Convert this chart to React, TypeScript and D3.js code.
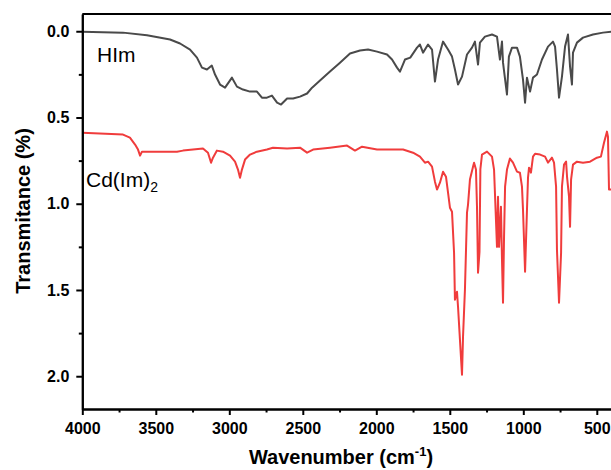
import { useEffect, useRef } from "react";
import * as d3 from "d3";

// [wavenumber, transmitance]
const himSpectrum: [number, number][] = [
  [4000, 0.003], [3723, 0.008], [3560, 0.023], [3403, 0.048], [3335, 0.071], [3267, 0.106],
  [3220, 0.153], [3186, 0.211], [3152, 0.222], [3119, 0.199], [3097, 0.251], [3063, 0.309],
  [3029, 0.327], [2982, 0.269], [2948, 0.321], [2907, 0.338], [2859, 0.35], [2812, 0.35],
  [2778, 0.385], [2744, 0.385], [2710, 0.373], [2675, 0.414], [2648, 0.425], [2607, 0.39],
  [2566, 0.39], [2519, 0.379], [2471, 0.361], [2437, 0.327], [2383, 0.286], [2315, 0.234],
  [2247, 0.182], [2179, 0.129], [2111, 0.112], [2056, 0.106], [1995, 0.118], [1927, 0.135],
  [1893, 0.164], [1859, 0.211], [1839, 0.234], [1805, 0.164], [1769, 0.153], [1723, 0.095],
  [1703, 0.077], [1682, 0.124], [1648, 0.077], [1621, 0.106], [1601, 0.292], [1580, 0.164],
  [1546, 0.06], [1512, 0.106], [1485, 0.147], [1465, 0.222], [1444, 0.309], [1417, 0.263],
  [1383, 0.135], [1349, 0.095], [1329, 0.06], [1308, 0.193], [1295, 0.066], [1261, 0.031],
  [1213, 0.019], [1179, 0.031], [1159, 0.164], [1145, 0.06], [1138, 0.182], [1111, 0.367],
  [1098, 0.147], [1077, 0.095], [1043, 0.095], [1023, 0.147], [1002, 0.28], [988, 0.414],
  [975, 0.269], [954, 0.35], [934, 0.269], [907, 0.251], [873, 0.164], [832, 0.089],
  [798, 0.06], [784, 0.089], [771, 0.222], [757, 0.385], [737, 0.263], [716, 0.089],
  [696, 0.019], [682, 0.205], [669, 0.309], [662, 0.124], [635, 0.066], [594, 0.037],
  [526, 0.019], [458, 0.008], [400, 0.002],
];

const cdSpectrum: [number, number][] = [
  [4000, 0.589], [3723, 0.599], [3676, 0.617], [3641, 0.657], [3621, 0.686], [3607, 0.721],
  [3594, 0.698], [3560, 0.698], [3356, 0.698], [3315, 0.692], [3179, 0.68], [3145, 0.704],
  [3124, 0.762], [3111, 0.733], [3084, 0.692], [3043, 0.698], [2995, 0.721], [2961, 0.756],
  [2941, 0.802], [2927, 0.849], [2914, 0.802], [2893, 0.744], [2859, 0.715], [2812, 0.698],
  [2744, 0.686], [2703, 0.675], [2607, 0.68], [2519, 0.675], [2471, 0.704], [2430, 0.686],
  [2315, 0.675], [2199, 0.663], [2145, 0.692], [2097, 0.669], [1995, 0.686], [1818, 0.686],
  [1750, 0.704], [1703, 0.727], [1669, 0.762], [1648, 0.756], [1621, 0.785], [1601, 0.872],
  [1587, 0.918], [1567, 0.878], [1546, 0.814], [1526, 0.843], [1512, 0.936], [1499, 1.023],
  [1485, 1.046], [1471, 1.284], [1465, 1.556], [1451, 1.51], [1444, 1.597], [1431, 1.788],
  [1417, 1.991], [1410, 1.771], [1397, 1.498], [1383, 1.052], [1376, 1.005], [1363, 0.86],
  [1342, 0.785], [1335, 0.762], [1322, 0.802], [1315, 1.017], [1308, 1.4], [1298, 1.28],
  [1292, 0.8], [1281, 0.715], [1247, 0.698], [1213, 0.727], [1199, 0.802], [1186, 1.093],
  [1179, 1.25], [1172, 0.959], [1165, 1.25], [1152, 1.017], [1145, 1.324], [1138, 1.574],
  [1131, 1.191], [1124, 0.901], [1111, 0.802], [1091, 0.738], [1070, 0.762], [1043, 0.814],
  [1023, 0.82], [1009, 0.901], [1002, 1.035], [988, 1.394], [975, 1.035], [968, 0.849],
  [961, 0.791], [948, 0.82], [934, 0.727], [920, 0.71], [886, 0.715], [852, 0.727],
  [832, 0.762], [805, 0.733], [791, 0.762], [777, 0.901], [771, 1.266], [757, 1.574],
  [743, 1.284], [737, 0.901], [723, 0.773], [709, 0.756], [702, 0.849], [689, 0.959],
  [682, 1.134], [675, 0.86], [662, 0.773], [635, 0.756], [594, 0.762], [546, 0.756],
  [499, 0.733], [472, 0.727], [451, 0.646], [431, 0.582], [424, 0.611], [417, 0.918],
  [400, 0.918],
];

const xMajor = [4000, 3500, 3000, 2500, 2000, 1500, 1000, 500];
const xMinor = [3750, 3250, 2750, 2250, 1750, 1250, 750];
const yMajor = [0, 0.5, 1.0, 1.5, 2.0];
const yMinor = [0.25, 0.75, 1.25, 1.75];

const FONT = "'Liberation Sans', Arial, sans-serif";

export default function App() {
  const ref = useRef<SVGSVGElement>(null);

  useEffect(() => {
    const width = 611, height = 470;
    const margin = { top: 14, left: 82.3, bottom: 409, right: 611.5 };

    const svg = d3.select(ref.current).attr("width", width).attr("height", height);
    svg.selectAll("*").remove();

    const x = d3.scaleLinear().domain([4000, 400]).range([margin.left, margin.right]);
    const y = d3.scaleLinear().domain([-0.1, 2.19]).range([margin.top, margin.bottom]);

    const line = d3.line<[number, number]>()
      .x(d => x(d[0]))
      .y(d => y(d[1]));

    svg.append("path")
      .datum(himSpectrum)
      .attr("fill", "none")
      .attr("stroke", "#4a4a4a")
      .attr("stroke-width", 2)
      .attr("stroke-linejoin", "round")
      .attr("d", line);

    svg.append("path")
      .datum(cdSpectrum)
      .attr("fill", "none")
      .attr("stroke", "#f03c3c")
      .attr("stroke-width", 2)
      .attr("stroke-linejoin", "round")
      .attr("d", line);

    // top frame line
    svg.append("line")
      .attr("x1", margin.left).attr("x2", width)
      .attr("y1", margin.top).attr("y2", margin.top)
      .attr("stroke", "#000").attr("stroke-width", 2);

    // axes
    const xAxis = svg.append("g")
      .attr("transform", `translate(0,${margin.bottom})`)
      .call(d3.axisBottom(x).tickValues(xMajor).tickFormat(d3.format("d")).tickSize(6).tickSizeOuter(0).tickPadding(8));
    svg.append("g")
      .attr("transform", `translate(0,${margin.bottom})`)
      .call(d3.axisBottom(x).tickValues(xMinor).tickFormat(() => "").tickSize(3.5).tickSizeOuter(0));

    const yAxis = svg.append("g")
      .attr("transform", `translate(${margin.left},0)`)
      .call(d3.axisLeft(y).tickValues(yMajor).tickFormat(d3.format(".1f")).tickSize(6).tickSizeOuter(0).tickPadding(7));
    svg.append("g")
      .attr("transform", `translate(${margin.left},0)`)
      .call(d3.axisLeft(y).tickValues(yMinor).tickFormat(() => "").tickSize(3.5).tickSizeOuter(0));

    svg.selectAll(".domain").attr("stroke-width", 2).attr("stroke", "#000");
    svg.selectAll(".tick line").attr("stroke-width", 2).attr("stroke", "#000");
    [xAxis, yAxis].forEach(g =>
      g.selectAll("text")
        .attr("font-family", FONT)
        .attr("font-size", 16)
        .attr("font-weight", "bold")
        .attr("fill", "#000")
    );

    // axis titles
    const xt = svg.append("text")
      .attr("x", 341).attr("y", 464)
      .attr("text-anchor", "middle")
      .attr("font-family", FONT).attr("font-size", 20).attr("font-weight", "bold");
    xt.append("tspan").text("Wavenumber (cm");
    xt.append("tspan").attr("font-size", 13).attr("dy", -8).text("-1");
    xt.append("tspan").attr("dy", 8).text(")");

    svg.append("text")
      .attr("transform", "translate(30,211) rotate(-90)")
      .attr("text-anchor", "middle")
      .attr("font-family", FONT).attr("font-size", 20).attr("font-weight", "bold")
      .text("Transmitance (%)");

    // series labels
    svg.append("text")
      .attr("x", 97).attr("y", 62)
      .attr("font-family", FONT).attr("font-size", 21)
      .text("HIm");

    const cd = svg.append("text")
      .attr("x", 86).attr("y", 187)
      .attr("font-family", FONT).attr("font-size", 21);
    cd.append("tspan").text("Cd(Im)");
    cd.append("tspan").attr("font-size", 14).attr("dy", 5).text("2");
  }, []);

  return <svg ref={ref} style={{ position: "absolute", left: 0, top: 0 }}></svg>;
}
